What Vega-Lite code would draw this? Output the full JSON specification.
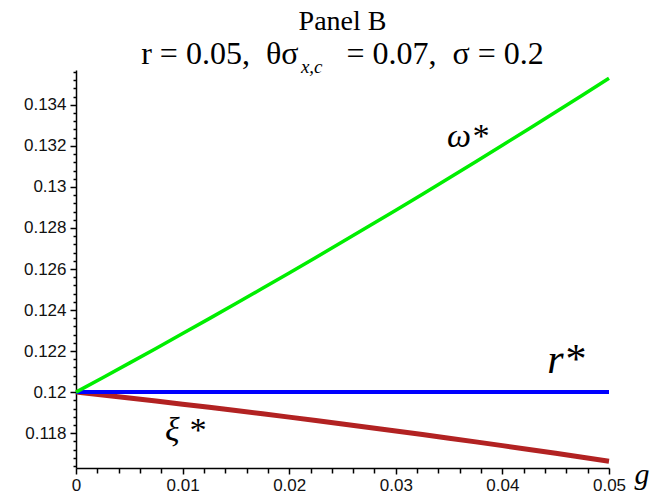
{
  "$schema": "https://vega.github.io/schema/vega-lite/v6.json",
  "width": 533,
  "height": 398,
  "autosize": {"type": "none"},
  "padding": {"left": 76, "top": 70, "right": 57, "bottom": 34},
  "background": "white",
  "config": {"view": {"stroke": null}},
  "title": {
    "text": "Panel B",
    "subtitle": "r = 0.05,\u00a0\u00a0θσ\u00a0\u00a0\u00a0\u00a0\u00a0 = 0.07,\u00a0\u00a0σ = 0.2",
    "font": "Liberation Serif",
    "fontSize": 28,
    "fontWeight": "normal",
    "color": "black",
    "subtitleFont": "Liberation Serif",
    "subtitleFontSize": 32,
    "subtitleColor": "black",
    "anchor": "middle",
    "offset": -12,
    "subtitlePadding": 3
  },
  "datasets": {
    "curves": [
      {"series": "xi", "g": 0, "value": 0.12},
      {"series": "xi", "g": 0.0025, "value": 0.119857},
      {"series": "xi", "g": 0.005, "value": 0.119711},
      {"series": "xi", "g": 0.0075, "value": 0.119563},
      {"series": "xi", "g": 0.01, "value": 0.119412},
      {"series": "xi", "g": 0.0125, "value": 0.119258},
      {"series": "xi", "g": 0.015, "value": 0.119101},
      {"series": "xi", "g": 0.0175, "value": 0.118942},
      {"series": "xi", "g": 0.02, "value": 0.11878},
      {"series": "xi", "g": 0.0225, "value": 0.118616},
      {"series": "xi", "g": 0.025, "value": 0.118449},
      {"series": "xi", "g": 0.0275, "value": 0.118279},
      {"series": "xi", "g": 0.03, "value": 0.118106},
      {"series": "xi", "g": 0.0325, "value": 0.117931},
      {"series": "xi", "g": 0.035, "value": 0.117753},
      {"series": "xi", "g": 0.0375, "value": 0.117573},
      {"series": "xi", "g": 0.04, "value": 0.11739},
      {"series": "xi", "g": 0.0425, "value": 0.117203},
      {"series": "xi", "g": 0.045, "value": 0.117015},
      {"series": "xi", "g": 0.0475, "value": 0.116824},
      {"series": "xi", "g": 0.05, "value": 0.11663},
      {"series": "r", "g": 0, "value": 0.12},
      {"series": "r", "g": 0.05, "value": 0.12},
      {"series": "omega", "g": 0, "value": 0.12},
      {"series": "omega", "g": 0.0025, "value": 0.120703},
      {"series": "omega", "g": 0.005, "value": 0.121413},
      {"series": "omega", "g": 0.0075, "value": 0.122129},
      {"series": "omega", "g": 0.01, "value": 0.122852},
      {"series": "omega", "g": 0.0125, "value": 0.123581},
      {"series": "omega", "g": 0.015, "value": 0.124317},
      {"series": "omega", "g": 0.0175, "value": 0.125059},
      {"series": "omega", "g": 0.02, "value": 0.125808},
      {"series": "omega", "g": 0.0225, "value": 0.126563},
      {"series": "omega", "g": 0.025, "value": 0.127325},
      {"series": "omega", "g": 0.0275, "value": 0.128093},
      {"series": "omega", "g": 0.03, "value": 0.128868},
      {"series": "omega", "g": 0.0325, "value": 0.129649},
      {"series": "omega", "g": 0.035, "value": 0.130437},
      {"series": "omega", "g": 0.0375, "value": 0.131231},
      {"series": "omega", "g": 0.04, "value": 0.132032},
      {"series": "omega", "g": 0.0425, "value": 0.132839},
      {"series": "omega", "g": 0.045, "value": 0.133653},
      {"series": "omega", "g": 0.0475, "value": 0.134473},
      {"series": "omega", "g": 0.05, "value": 0.1353}
    ],
    "labels": [
      {"kind": "curve", "label": "ω*", "g": 0.0348, "value": 0.13195},
      {"kind": "big", "label": "r*", "g": 0.0442, "value": 0.12093},
      {"kind": "curve", "label": "ξ *", "g": 0.00835, "value": 0.11761},
      {"kind": "sub", "label": "x,c", "g": 0.0211, "value": 0.13556}
    ]
  },
  "encoding": {
    "x": {
      "field": "g",
      "type": "quantitative",
      "scale": {"domain": [0, 0.05], "nice": false, "zero": false},
      "axis": {
        "values": [0, 0.002, 0.004, 0.006, 0.008, 0.01, 0.012, 0.014, 0.016, 0.018, 0.02, 0.022, 0.024, 0.026, 0.028, 0.03, 0.032, 0.034, 0.036, 0.038, 0.04, 0.042, 0.044, 0.046, 0.048, 0.05],
        "labelExpr": "abs(datum.value*100 - round(datum.value*100)) < 0.01 ? format(datum.value, '.2~f') : ''",
        "tickSize": {"condition": {"test": "abs(datum.value*100 - round(datum.value*100)) < 0.01", "value": 6}, "value": 5},
        "labelOverlap": false,
        "labelFlush": false,
        "labelFont": "Liberation Sans",
        "labelFontSize": 17,
        "labelColor": "#111",
        "labelPadding": 3,
        "grid": false,
        "domainColor": "black",
        "domainWidth": 1.5,
        "tickColor": "black",
        "tickWidth": 1.5,
        "title": "g",
        "titleFont": "Liberation Serif",
        "titleFontStyle": "italic",
        "titleFontWeight": "normal",
        "titleFontSize": 30,
        "titleColor": "black",
        "titleAlign": "left",
        "titleBaseline": "alphabetic",
        "titleAnchor": "start",
        "titleX": 558,
        "titleY": 15
      }
    },
    "y": {
      "field": "value",
      "type": "quantitative",
      "scale": {"domain": [0.1163, 0.1357], "nice": false, "zero": false},
      "axis": {
        "values": [0.1164, 0.1168, 0.1172, 0.1176, 0.118, 0.1184, 0.1188, 0.1192, 0.1196, 0.12, 0.1204, 0.1208, 0.1212, 0.1216, 0.122, 0.1224, 0.1228, 0.1232, 0.1236, 0.124, 0.1244, 0.1248, 0.1252, 0.1256, 0.126, 0.1264, 0.1268, 0.1272, 0.1276, 0.128, 0.1284, 0.1288, 0.1292, 0.1296, 0.13, 0.1304, 0.1308, 0.1312, 0.1316, 0.132, 0.1324, 0.1328, 0.1332, 0.1336, 0.134, 0.1344, 0.1348, 0.1352, 0.1356],
        "labelExpr": "abs(datum.value*500 - round(datum.value*500)) < 0.01 ? format(datum.value, '.3~f') : ''",
        "tickSize": {"condition": {"test": "abs(datum.value*500 - round(datum.value*500)) < 0.01", "value": 6}, "value": 3},
        "labelOverlap": false,
        "labelFlush": false,
        "labelFont": "Liberation Sans",
        "labelFontSize": 17,
        "labelColor": "#111",
        "labelPadding": 4,
        "grid": false,
        "domainColor": "black",
        "domainWidth": 1.5,
        "tickColor": "black",
        "tickWidth": 1.5,
        "title": null
      }
    }
  },
  "layer": [
    {
      "data": {"name": "curves"},
      "transform": [{"filter": "datum.series == 'xi'"}],
      "mark": {"type": "line", "color": "#b22222", "strokeWidth": 5, "clip": false}
    },
    {
      "data": {"name": "curves"},
      "transform": [{"filter": "datum.series == 'r'"}],
      "mark": {"type": "line", "color": "#0000ff", "strokeWidth": 4, "clip": false}
    },
    {
      "data": {"name": "curves"},
      "transform": [{"filter": "datum.series == 'omega'"}],
      "mark": {"type": "line", "color": "#00ee00", "strokeWidth": 3.5, "clip": false}
    },
    {
      "data": {"name": "labels"},
      "transform": [{"filter": "datum.kind == 'curve'"}],
      "mark": {"type": "text", "font": "Liberation Serif", "fontStyle": "italic", "fontSize": 34, "align": "left", "baseline": "alphabetic", "color": "black"},
      "encoding": {"text": {"field": "label"}}
    },
    {
      "data": {"name": "labels"},
      "transform": [{"filter": "datum.kind == 'big'"}],
      "mark": {"type": "text", "font": "Liberation Serif", "fontStyle": "italic", "fontSize": 42, "align": "left", "baseline": "alphabetic", "color": "black"},
      "encoding": {"text": {"field": "label"}}
    },
    {
      "data": {"name": "labels"},
      "transform": [{"filter": "datum.kind == 'sub'"}],
      "mark": {"type": "text", "font": "Liberation Serif", "fontStyle": "italic", "fontSize": 19, "align": "left", "baseline": "alphabetic", "color": "black", "clip": false},
      "encoding": {"text": {"field": "label"}}
    }
  ]
}
